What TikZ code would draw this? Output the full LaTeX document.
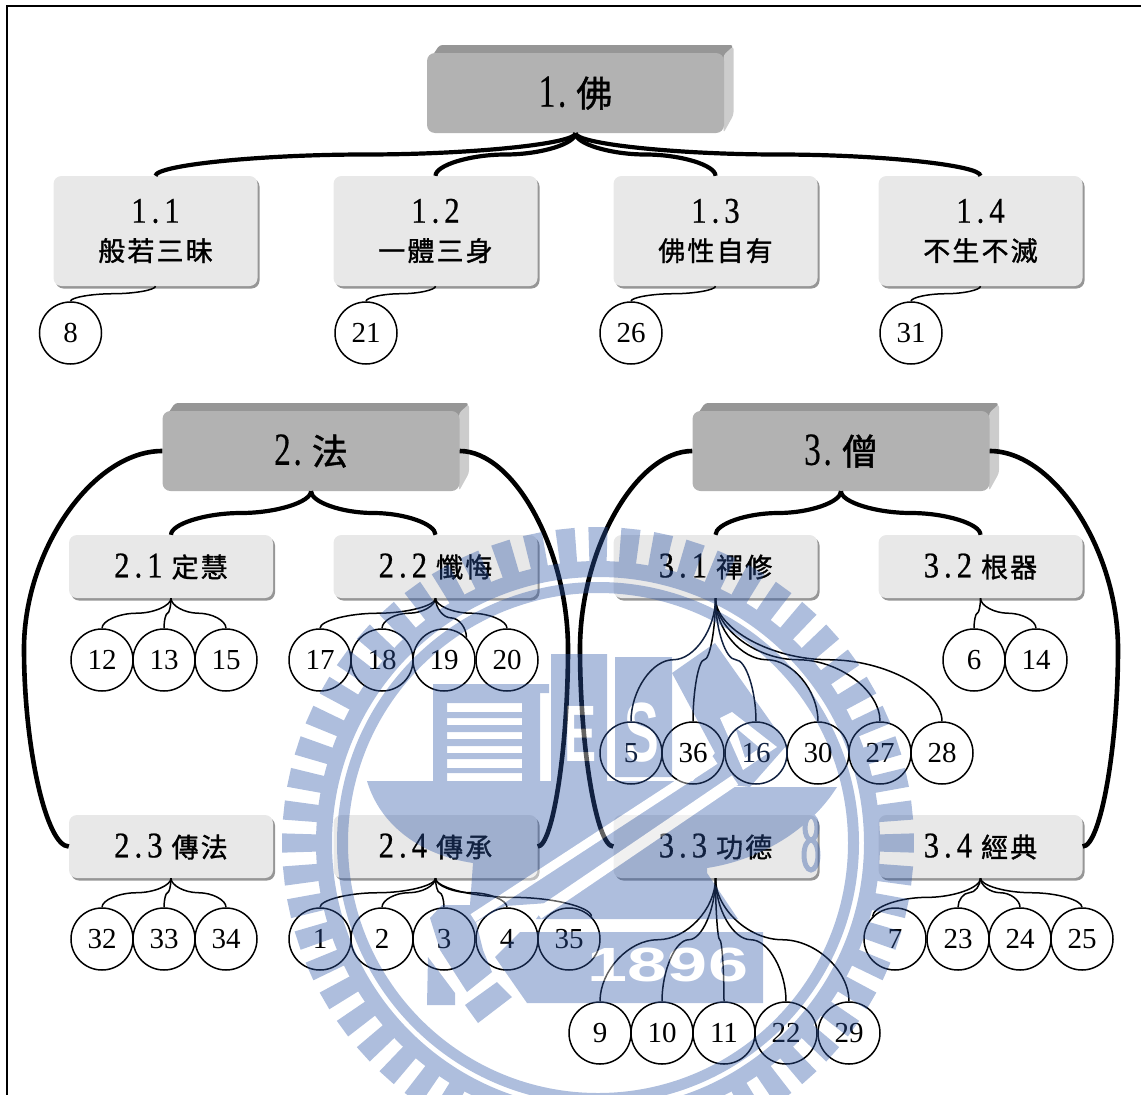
\documentclass[tikz,border=0pt]{standalone}
\usepackage{fontspec}
\usetikzlibrary{calc,shadows}
\setmainfont{Liberation Serif}
\newfontfamily\cjkfont[LetterSpace=8,FakeBold=1.2]{Noto Sans CJK TC}
\newfontfamily\numfont[LetterSpace=14,FakeStretch=0.85,FakeBold=0.6]{Liberation Serif}
\newfontfamily\bignumfont[LetterSpace=6,FakeStretch=0.72,FakeBold=0.4]{Liberation Serif}
\newfontfamily\marksans{Liberation Sans}
\definecolor{boxfront}{RGB}{178,178,178}
\definecolor{boxtop}{RGB}{150,150,150}
\definecolor{boxside}{RGB}{204,204,204}
\definecolor{subfill}{RGB}{232,232,232}
\definecolor{subedge}{RGB}{150,150,150}
\definecolor{markblue}{RGB}{46,87,167}
\definecolor{marknavy}{RGB}{18,34,65}
\tikzset{
  mainbox/.style={draw=none,fill=boxfront,rounded corners=8pt,minimum width=297pt,minimum height=80pt,inner sep=0pt},
  subbox/.style={draw=none,fill=subfill,rounded corners=8pt,minimum width=204pt,inner sep=0pt,align=center,
    drop shadow={shadow xshift=2pt,shadow yshift=-2.5pt,fill=subedge,opacity=1}},
  numcircle/.style={circle,draw,line width=1.5pt,minimum size=62pt,inner sep=0pt,font=\fontsize{29}{30}\selectfont},
  % curve leaving and reaching its ends vertically
  bracelink/.style={to path={let \p1=(\tikztostart),\p2=(\tikztotarget) in
    .. controls (\x1,{0.75*\y1+0.25*\y2}) and ({0.75*\x1+0.25*\x2},{0.5*\y1+0.5*\y2}) .. ({0.5*\x1+0.5*\x2},{0.5*\y1+0.5*\y2})
    .. controls ({0.25*\x1+0.75*\x2},{0.5*\y1+0.5*\y2}) and (\x2,{0.25*\y1+0.75*\y2}) .. (\tikztotarget)}},
  % curve leaving and reaching its ends horizontally, through x=#1
  sidelink/.style={line width=4.6pt,to path={let \p1=(\tikztostart),\p2=(\tikztotarget) in
    .. controls ({0.5*\x1+0.5*#1pt},\y1) and (#1pt,{0.75*\y1+0.25*\y2}) .. (#1pt,{0.5*\y1+0.5*\y2})
    .. controls (#1pt,{0.25*\y1+0.75*\y2}) and ({0.5*\x2+0.5*#1pt},\y2) .. (\tikztotarget)}},
  mainlink/.style={bracelink,line width=4.2pt},
  leaflink/.style={bracelink,line width=1.5pt}
}
\newcommand{\mainlabel}[2]{{\fontsize{46}{48}\bignumfont #1}\hspace{10pt}{\fontsize{36}{40}\cjkfont #2}}
\newcommand{\sublabel}[2]{{\fontsize{36}{36}\numfont #1}\\[14pt]{\fontsize{27}{30}\cjkfont #2}}
\newcommand{\rowlabel}[2]{{\fontsize{36}{36}\numfont #1}\hspace{9pt}{\fontsize{27}{30}\cjkfont #2}}
\begin{document}
\begin{tikzpicture}[x=1pt,y=-1pt]
  \newcommand{\bevelbox}[4]{%
    \begin{scope}[shift={(#2,#3)}]
      \fill[boxtop,rounded corners=3pt] (-148,-30) -- (-136,-48) -- (158,-48) -- (148,-30) -- cycle;
      \fill[boxside,rounded corners=3pt] (148,-38) -- (158,-47) -- (158,22) -- (148,40) -- cycle;
      \node[mainbox] (#1) at (0,0) {\mainlabel{#4}{#1}};
    \end{scope}
  }
  \useasboundingbox (0,0) rectangle (1141,1095);
  % Frame
  \draw[line width=1.2pt] (7,1095) -- (7,6) -- (1141,6);
  % Upper boxes
  \bevelbox{佛}{575.5}{93}{1.}
  \bevelbox{法}{311}{451}{2.}
  \bevelbox{僧}{841}{451}{3.}
  % Sub boxes
  \foreach \n/\x/\num/\txt in {11/155.5/1.1/般若三昧,12/435.5/1.2/一體三身,13/715.5/1.3/佛性自有,14/980.5/1.4/不生不滅}
    {\node[subbox,minimum height=110pt] (sub\n) at (\x,231) {\sublabel{\num}{\txt}};}
  \foreach \n/\x/\num/\txt in {21/171/2.1/定慧,22/435.5/2.2/懺悔,31/715.5/3.1/禪修,32/980.5/3.2/根器}
    {\node[subbox,minimum height=63pt] (sub\n) at (\x,566.5) {\rowlabel{\num}{\txt}};}
  \foreach \n/\x/\num/\txt in {23/171/2.3/傳法,24/435.5/2.4/傳承,33/715.5/3.3/功德,34/980.5/3.4/經典}
    {\node[subbox,minimum height=63pt] (sub\n) at (\x,846.5) {\rowlabel{\num}{\txt}};}
  % Circles
  \foreach \n/\x in {8/70.5,21/366,26/631,31/911}
    {\node[numcircle] (c\n) at (\x,333) {\n};}
  \foreach \n/\x in {12/102,13/164,15/226,17/320,18/382,19/444,20/507,6/974,14/1036}
    {\node[numcircle] (c\n) at (\x,660) {\n};}
  \foreach \n/\x in {36/693,30/818,27/880,28/942}
    {\node[numcircle] (c\n) at (\x,753) {\n};}
  \foreach \n/\x in {32/102,33/164,34/226,1/320,2/382,3/444,4/507,35/569,7/895,23/958,24/1020,25/1082}
    {\node[numcircle] (c\n) at (\x,939) {\n};}
  \foreach \n/\x in {9/600,10/662,11/724,22/786,29/849}
    {\node[numcircle] (c\n) at (\x,1033) {\n};}
  % Thick links
  \foreach \s in {11,12,13,14} {\draw[mainlink] (佛.south) to (sub\s.north);}
  \foreach \s in {21,22} {\draw[mainlink] (法.south) to (sub\s.north);}
  \foreach \s in {31,32} {\draw[mainlink] (僧.south) to (sub\s.north);}
  \draw[sidelink=24] (法.west) to (sub23.west);
  \draw[sidelink=568] (法.east) to (sub24.east);
  \draw[sidelink=580] (僧.west) to (sub33.west);
  \draw[sidelink=1118] (僧.east) to (sub34.east);
  % Thin links
  \foreach \s/\c in {11/8,12/21,13/26,14/31} {\draw[leaflink] (sub\s.south) to (c\c.north);}
  \foreach \c in {12,13,15} {\draw[leaflink] (sub21.south) to (c\c.north);}
  \foreach \c in {17,18,20} {\draw[leaflink] (sub22.south) to (c\c.north);}
  \draw[leaflink] (sub22.south) to (c19.45);
  \foreach \c in {36,30,27,28} {\draw[leaflink] (sub31.south) to (c\c.north);}
  \foreach \c in {6,14} {\draw[leaflink] (sub32.south) to (c\c.north);}
  \foreach \c in {32,33,34} {\draw[leaflink] (sub23.south) to (c\c.north);}
  \foreach \c in {1,2,3,4} {\draw[leaflink] (sub24.south) to (c\c.north);}
  \draw[leaflink] (sub24.south) to (c35.45);
  \foreach \c in {9,10,11,22,29} {\draw[leaflink] (sub33.south) to (c\c.north);}
  \foreach \c in {23,24,25} {\draw[leaflink] (sub34.south) to (c\c.north);}
  \draw[leaflink] (sub34.south) to (c7.135);
  % Seal lying over everything
  \begin{scope}[transparency group,opacity=0.39]
    \clip (0,0) rectangle (1141,1095);
    \begin{scope}[shift={(598,843)},markblue]
      \foreach \a in {0,6,...,354}
        {\fill ($(\a-1.75:281)$) -- ($(\a-1.75:316)$) -- ($(\a+1.75:316)$) -- ($(\a+1.75:281)$) -- cycle;}
      \fill[even odd rule] (0,0) circle (282pt) (0,0) circle (266pt);
      \fill[even odd rule] (0,0) circle (261pt) (0,0) circle (250pt);
    \end{scope}
    \fill[markblue] (433,684) rectangle (549,693);
    \fill[markblue] (433,684) rectangle (447,781);
    \fill[markblue] (522,693) rectangle (540,782);
    \foreach \ya/\yb in {693/703,712/718,725/732,739/746,753/759,768/773}
      {\fill[markblue] (447,\ya) rectangle (522,\yb);}
    \fill[markblue] (551,654) rectangle (607,784);
    \fill[markblue] (615,657) rectangle (672,777);
    \fill[markblue] (672,673) -- (715,643) -- (787,745) -- (750,787) -- (693,781) -- (715,753) -- cycle;
    % Hull and year plate
    \fill[markblue] (367,781) -- (727,781) -- (727,787) -- (837,787)
      .. controls (810,830) and (760,860) .. (707,868) -- (707,873) -- (738,919) -- (536,919)
      -- (548,903) -- (505,906) -- (476,922) -- (483,950) -- (492,972) -- (467,992) -- (440,950)
      -- (430,918) -- (442,905) -- (470,905) -- (473,863)
      .. controls (420,855) and (380,825) .. (367,781) -- cycle;
    \fill[markblue] (520,932) -- (763,932) -- (763,1003) -- (527,1003) -- (495,957) -- cycle;
    \fill[markblue] (428,957) -- (455,993) -- (455,1005) -- (427,1005) -- cycle;
    \fill[markblue] (497,982) -- (512,997) -- (478,1023) -- (465,1005) -- cycle;
    \draw[markblue,line width=5pt] (811,828) ellipse (6pt and 12pt) (811,855) ellipse (7pt and 15pt);
    % Cut-outs
    \draw[white,line width=9pt] (715,760) -- (473,918);
    \draw[white,line width=11pt] (735,780) -- (538,914);
    \fill[white,even odd rule] (720,718) -- (732,712) -- (777,747) -- (743,770) -- cycle
      (735,727) -- (760,748) -- (745,758) -- cycle;
    \node[white,font=\marksans\bfseries\fontsize{80}{80}\selectfont,xscale=0.6,inner sep=0pt] (markE) at (581,734) {E};
    \node[white,font=\marksans\bfseries\fontsize{84}{84}\selectfont,xscale=0.62,inner sep=0pt] (markS) at (642,733) {S};
    \node[white,font=\marksans\bfseries\fontsize{48}{48}\selectfont,xscale=1.5,inner sep=0pt] (markyear) at (668,965) {1896};
  \end{scope}
  % Circles sitting on the cut-out letters
  \foreach \c/\x in {5/631,16/756}
    {\node[numcircle,draw=marknavy,text=marknavy] (c\c) at (\x,753) {\c};
     \draw[leaflink,marknavy] (sub31.south) to (c\c.north);}
\end{tikzpicture}
\end{document}
